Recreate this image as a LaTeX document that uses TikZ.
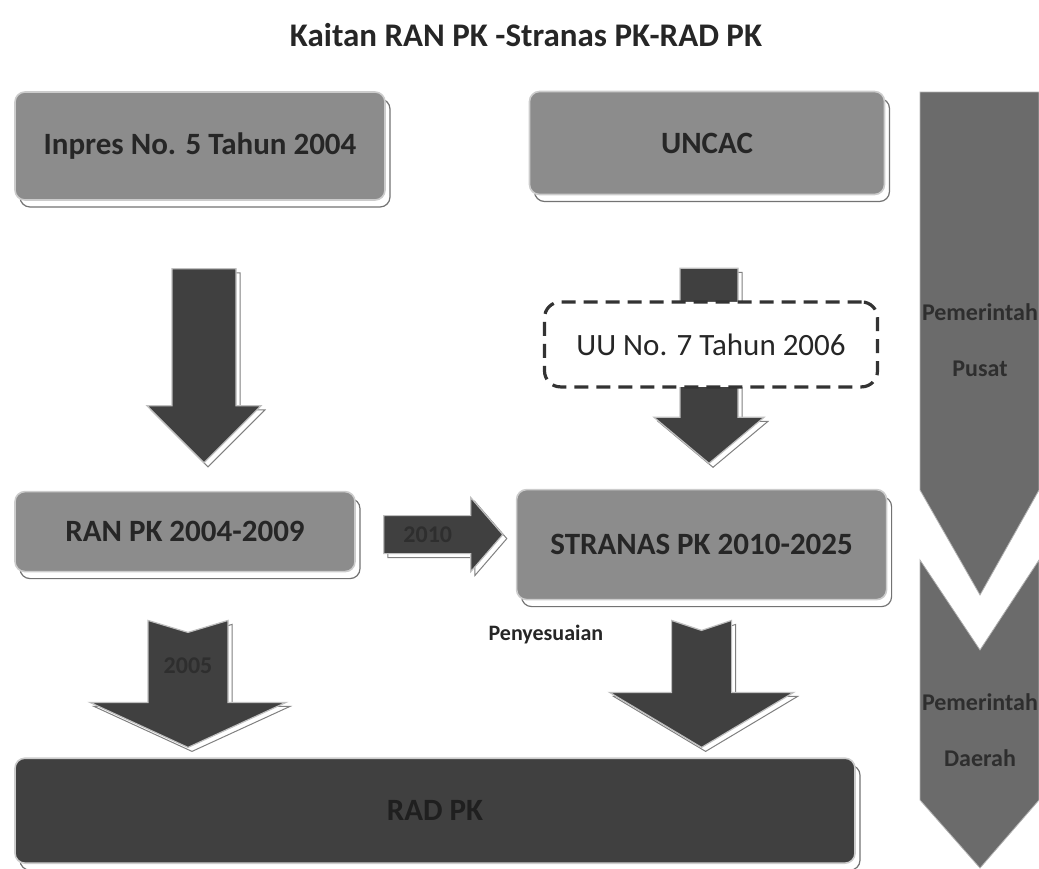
\documentclass[tikz,border=0pt]{standalone}
\usepackage{fontspec}
\setmainfont{Carlito}
\usepackage{tikz}
\usetikzlibrary{positioning,calc,shadows}

\begin{document}
\begin{tikzpicture}[x=0.5pt,y=-0.5pt,
  kotak/.style={draw=black!20,line width=0.8pt,rounded corners=5pt,fill=black!45,
    text=black!85,font=\fontsize{15.5}{18}\selectfont\bfseries,
    copy shadow={shadow xshift=2.5pt,shadow yshift=-3.5pt,fill=white,draw=black!55,line width=0.6pt}},
  garis/.style={draw=black!80,line width=1.6pt,dash pattern=on 7pt off 4pt,rounded corners=8pt,
    fill=white,text=black!85,font=\fontsize{15.5}{18}\selectfont},
  gelap/.style={kotak,fill=black!75,text=black!88},
  panah/.style={fill=black!75,draw=black!25,line width=0.6pt,
    copy shadow={shadow xshift=2pt,shadow yshift=-2pt,fill=white,draw=black!50,line width=0.5pt}},
  besar/.style={fill=black!58,draw=black!30},
  ket/.style={font=\fontsize{11}{13}\selectfont\bfseries,text=black!85,inner sep=0pt},
  samar/.style={font=\fontsize{12}{14}\selectfont\bfseries,text=black!82,inner sep=0pt}]

  \useasboundingbox (0,0) rectangle (1039,868);

  \node[font=\fontsize{16.5}{19}\selectfont\bfseries,text=black!85] (judul) at (526,35) {Kaitan RAN PK -Stranas PK-RAD PK};

  \node[kotak,minimum width=185pt,minimum height=54pt] (inpres) at (200,146) {Inpres No. 5 Tahun 2004};
  \node[kotak,minimum width=177.5pt,minimum height=51.5pt] (uncac) at (707,143) {UNCAC};
  \node[kotak,minimum width=170pt,minimum height=40pt,below=145pt of inpres,xshift=-7.5pt] (ran) {RAN PK 2004-2009};
  \node[kotak,minimum width=185pt,minimum height=55pt,right=80pt of ran,yshift=-6.5pt] (stranas) {STRANAS PK 2010-2025};
  \node[gelap,minimum width=420pt,minimum height=52.5pt,below=92.5pt of ran.south west,anchor=north west] (rad) {RAD PK};

  % panah turun
  \coordinate (p1) at ($(inpres.south)+(4,68)$);
  \path[panah,shift={(p1)}] (-32,0) -- (32,0) -- (32,137) -- (57,137) -- (0,194) -- (-57,137) -- (-32,137) -- cycle;
  \coordinate (p2) at ($(uncac.south)+(2,73)$);
  \path[panah,shift={(p2)}] (-29,0) -- (29,0) -- (29,149) -- (55,149) -- (0,195) -- (-55,149) -- (-29,149) -- cycle;
  \node[garis,minimum width=166.5pt,minimum height=42.5pt,below=52.5pt of uncac,xshift=2pt] (uu) {UU No. 7 Tahun 2006};

  % panah ke kanan
  \coordinate (p3) at ($(ran.east)+(28,3)$);
  \path[panah,shift={(p3)}] (0,-19) -- (87,-19) -- (87,-37) -- (119,0) -- (87,37) -- (87,19) -- (0,19) -- cycle;
  \node[samar] (th1) at ($(p3)+(44,0)$) {2010};

  % panah ke RAD
  \coordinate (p4) at ($(ran.south)+(3,48)$);
  \path[panah,shift={(p4)}] (-40,0) -- (0,12) -- (40,0) -- (40,82) -- (98,82) -- (0,127) -- (-98,82) -- (-40,82) -- cycle;
  \node[samar] (th2) at ($(p4)+(0,45)$) {2005};
  \coordinate (p5) at ($(stranas.south)+(0,20)$);
  \path[panah,shift={(p5)}] (-30,0) -- (0,10) -- (30,0) -- (30,72) -- (92,72) -- (0,127) -- (-92,72) -- (-30,72) -- cycle;
  \node[ket,anchor=east] (sesuai) at ($(p5)+(-98,14)$) {Penyesuaian};

  % pusat - daerah
  \path[besar] (920,92) -- (1039,92) -- (1039,490) -- (980,595) -- (920,490) -- cycle;
  \node[samar,align=center] (pusat) at (980,340) {Pemerintah\\[14pt]Pusat};
  \path[besar] (920,560) -- (980,650) -- (1039,560) -- (1039,800) -- (980,868) -- (920,800) -- cycle;
  \node[samar,align=center] (daerah) at (980,730) {Pemerintah\\[14pt]Daerah};
\end{tikzpicture}
\end{document}
